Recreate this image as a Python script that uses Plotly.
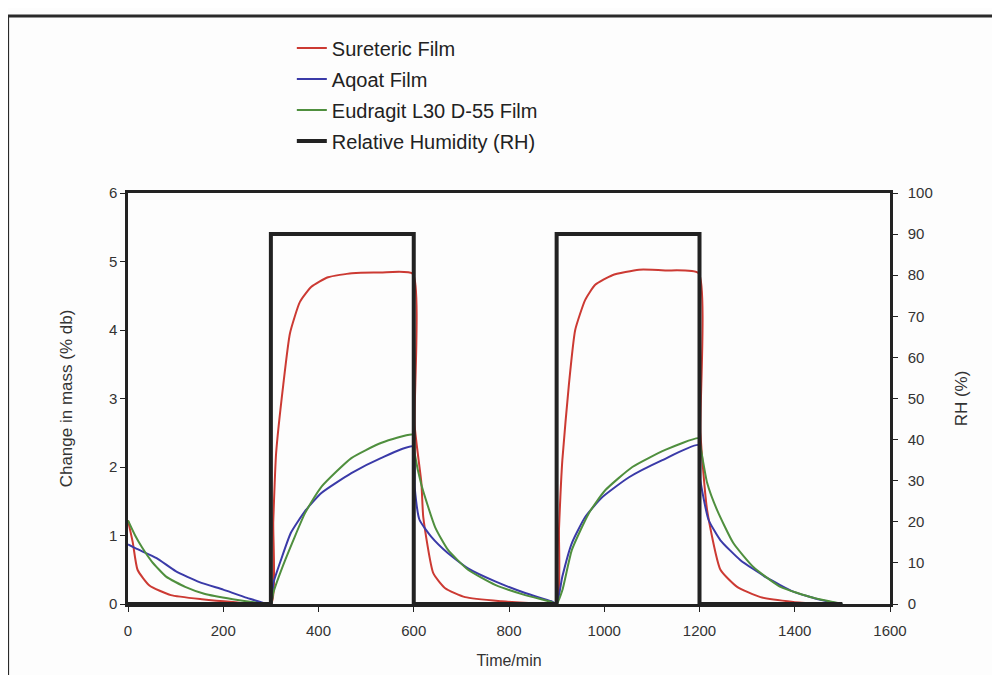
import plotly.graph_objects as go

# --- data ---
sur_t = [0, 10, 20, 45, 90, 155, 220, 300,
         305, 311, 326, 340, 361, 385, 420, 470, 530, 598,
         602, 616, 620, 641, 666, 708, 784, 850, 900,
         905, 912, 926, 939, 960, 981, 1017, 1073, 1128, 1198,
         1202, 1216, 1244, 1279, 1328, 1397, 1450]
sur_m = [1.22, 0.9, 0.5, 0.27, 0.13, 0.07, 0.03, 0.0,
         1.2, 2.2, 3.2, 3.95, 4.41, 4.63, 4.77, 4.83, 4.84, 4.82,
         2.6, 1.77, 1.27, 0.45, 0.23, 0.1, 0.04, 0.01, 0.0,
         1.1, 2.1, 3.22, 4.0, 4.44, 4.66, 4.8, 4.88, 4.87, 4.83,
         2.5, 1.37, 0.5, 0.25, 0.1, 0.03, 0.0]

aq_t = [0, 20, 60, 100, 150, 200, 250, 300,
        305, 321, 342, 371, 406, 469, 531, 598,
        602, 612, 637, 672, 714, 771, 834, 889, 900,
        912, 932, 960, 996, 1052, 1122, 1198,
        1202, 1219, 1244, 1286, 1342, 1397, 1454, 1500]
aq_m = [0.87, 0.8, 0.67, 0.48, 0.32, 0.21, 0.09, 0.0,
        0.3, 0.64, 1.04, 1.35, 1.62, 1.91, 2.13, 2.3,
        1.7, 1.23, 0.98, 0.74, 0.52, 0.33, 0.16, 0.04, 0.0,
        0.4, 0.89, 1.27, 1.56, 1.85, 2.1, 2.32,
        1.8, 1.23, 0.93, 0.64, 0.38, 0.18, 0.06, 0.0]

eu_t = [0, 15, 30, 50, 80, 120, 160, 220, 270, 300,
        305, 330, 372, 406, 469, 531, 598,
        602, 616, 645, 672, 714, 771, 834, 889, 900,
        912, 932, 968, 1002, 1059, 1128, 1198,
        1202, 1216, 1237, 1271, 1313, 1370, 1439, 1500]
eu_m = [1.22, 1.0, 0.82, 0.62, 0.4, 0.25, 0.15, 0.07, 0.02, 0.0,
        0.16, 0.64, 1.33, 1.71, 2.13, 2.35, 2.47,
        2.2, 1.74, 1.12, 0.79, 0.5, 0.28, 0.13, 0.03, 0.0,
        0.2, 0.79, 1.33, 1.66, 2.0, 2.25, 2.42,
        2.3, 1.77, 1.37, 0.89, 0.54, 0.25, 0.09, 0.0]

rh_t = [0, 300, 300, 600, 600, 900, 900, 1200, 1200, 1500]
rh_v = [0, 0, 90, 90, 0, 0, 90, 90, 0, 0]

x_ticks = [0, 200, 400, 600, 800, 1000, 1200, 1400, 1600]

FONT = "Liberation Sans, Arial, sans-serif"

fig = go.Figure()
fig.add_trace(go.Scatter(x=sur_t, y=sur_m, mode="lines", name="Sureteric Film",
                         line=dict(color="#cc3a33", width=2, shape="spline", smoothing=0.5), legendgroup="a"))
fig.add_trace(go.Scatter(x=aq_t, y=aq_m, mode="lines", name="Aqoat Film",
                         line=dict(color="#3a3aa8", width=2, shape="spline", smoothing=0.5), legendgroup="b"))
fig.add_trace(go.Scatter(x=eu_t, y=eu_m, mode="lines", name="Eudragit L30 D-55 Film",
                         line=dict(color="#4f8f3e", width=2, shape="spline", smoothing=0.5), legendgroup="c"))
fig.add_trace(go.Scatter(x=rh_t, y=rh_v, mode="lines", name="Relative Humidity (RH)",
                         line=dict(color="#222222", width=4), yaxis="y2", legendgroup="d"))

axis_common = dict(showgrid=False, zeroline=False, showline=True, linecolor="#222222",
                   linewidth=2.5, ticks="outside", ticklen=5, tickcolor="#222222",
                   automargin=False,
                   tickfont=dict(family=FONT, size=15, color="#333333"))

fig.update_layout(
    width=1000, height=675,
    margin=dict(l=120, r=118, t=185, b=79),
    paper_bgcolor="#fdfdfd", plot_bgcolor="#fdfdfd",
    font=dict(family=FONT, color="#333333"),
    xaxis=dict(range=[0, 1600], tickvals=x_ticks, mirror=True, ticklabelstandoff=6,
               title=dict(text="Time/min", font=dict(family=FONT, size=16, color="#333333"), standoff=18),
               **axis_common),
    yaxis=dict(range=[0, 6], dtick=1,
               title=dict(text="Change in mass (% db)", font=dict(family=FONT, size=17, color="#333333"), standoff=32),
               **axis_common),
    yaxis2=dict(range=[0, 100], dtick=10, overlaying="y", side="right", ticklabelstandoff=7,
                title=dict(text="RH (%)", font=dict(family=FONT, size=17, color="#333333"), standoff=24),
                **axis_common),
    legend=dict(x=0.215, y=1.40, xanchor="left", yanchor="top",
                font=dict(family=FONT, size=20, color="#222222"),
                bgcolor="rgba(0,0,0,0)", traceorder="grouped", tracegroupgap=2),
    showlegend=True,
    shapes=[dict(type="rect", xref="paper", yref="paper",
                 x0=-0.158, x1=1.25, y0=-0.3, y1=1.4307,
                 line=dict(color="#2a2a2a", width=3), fillcolor="rgba(0,0,0,0)")],
)

fig.write_html("out.html")
